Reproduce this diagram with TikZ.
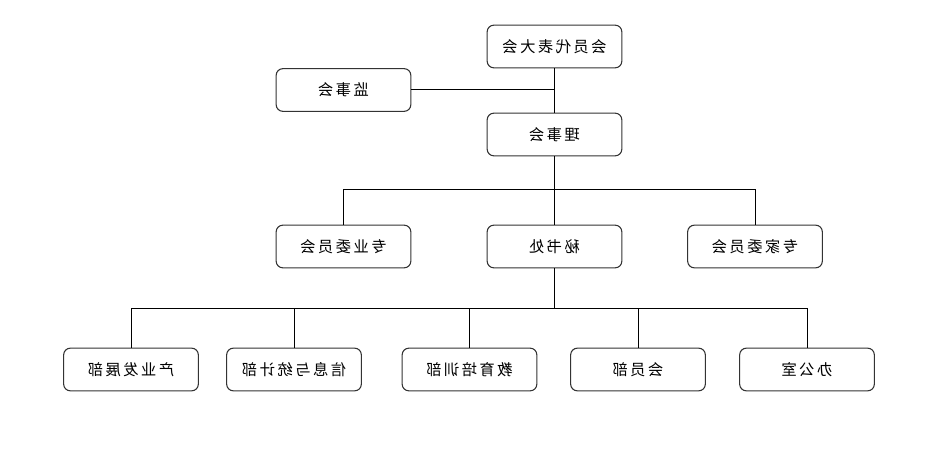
\documentclass[tikz,border=0pt]{standalone}
\usepackage{fontspec}
\newfontfamily\cjk[LetterSpace=16]{Noto Sans CJK SC}
\usetikzlibrary{positioning}
% the reference prints every label mirrored
\newcommand{\mirr}[1]{\scalebox{-1}[1]{#1}}

\begin{document}
\begin{tikzpicture}[
  x=0.75pt, y=-0.75pt,
  font=\cjk\fontsize{11.5}{13}\selectfont,
  orgbox/.style={draw=black!80, line width=0.8pt, rounded corners=5pt, minimum width=101pt, minimum height=32pt, inner sep=0pt, fill=white},
  link/.style={draw=black, line width=0.75pt},
]
\useasboundingbox (0,0) rectangle (942,474);

% ====== TOP ======
\node[orgbox] (congress) at (554.5, 46.5) {\mirr{会员代表大会}};
\node[orgbox] (supervisors) at (343.5, 90) {\mirr{监事会}};
\node[orgbox] (council) at (554.5, 134.5) {\mirr{理事会}};

\draw[link] (congress.south) -- (council.north);
\draw[link] (supervisors.east) -- (supervisors.east -| congress.south);

% ====== MIDDLE ROW ======
\node[orgbox] (prof) at (343.5, 246.5) {\mirr{专业委员会}};
\node[orgbox] (secretariat) at (554.5, 246.5) {\mirr{秘书处}};
\node[orgbox] (experts) at (755, 246.5) {\mirr{专家委员会}};

\coordinate (busA) at (554.5, 190);
\draw[link] (council.south) -- (busA);
\foreach \n in {prof, secretariat, experts}
  \draw[link] (busA) -| (\n.north);

% ====== BOTTOM ROW ======
\node[orgbox] (industry) at (131, 369.5) {\mirr{产业发展部}};
\node[orgbox] (info) at (294, 369.5) {\mirr{信息与统计部}};
\node[orgbox] (training) at (469.5, 369.5) {\mirr{教育培训部}};
\node[orgbox] (members) at (638, 369.5) {\mirr{会员部}};
\node[orgbox] (office) at (807, 369.5) {\mirr{办公室}};

\coordinate (busB) at (554.5, 308);
\draw[link] (secretariat.south) -- (busB);
\foreach \n in {industry, info, training, members, office}
  \draw[link] (busB) -| (\n.north);

\end{tikzpicture}
\end{document}
